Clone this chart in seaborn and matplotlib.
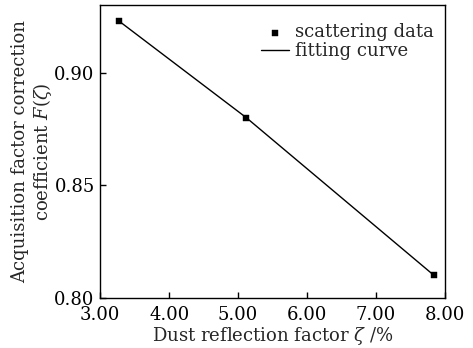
import matplotlib
matplotlib.use("Agg")
import matplotlib.pyplot as plt
import pandas as pd
import seaborn as sns

reflection = [3.27, 5.12, 7.84]
coefficient = [0.923, 0.880, 0.810]
x_ticks = [3.0, 4.0, 5.0, 6.0, 7.0, 8.0]
y_ticks = [0.80, 0.85, 0.90]

df = pd.DataFrame({"zeta": reflection, "F": coefficient})

sns.set_style("ticks")
plt.rcParams["font.family"] = ["DejaVu Serif"]
plt.rcParams["mathtext.fontset"] = "dejavuserif"

fig, ax = plt.subplots(figsize=(4.73, 3.48), dpi=100)
sns.lineplot(data=df, x="zeta", y="F", ax=ax, color="black", linewidth=1.0,
             label="fitting curve")
sns.scatterplot(data=df, x="zeta", y="F", ax=ax, color="black", marker="s",
                s=14, edgecolor="black", label="scattering data", zorder=3)

ax.set_xlim(3.0, 8.0)
ax.set_ylim(0.80, 0.93)
ax.set_xticks(x_ticks)
ax.set_xticklabels([f"{v:.2f}" for v in x_ticks])
ax.set_yticks(y_ticks)
ax.set_yticklabels([f"{v:.2f}" for v in y_ticks])
ax.tick_params(direction="in", length=4, width=1, labelsize=13, colors="black")
ax.tick_params(axis="x", pad=6)
ax.tick_params(axis="y", pad=4)
for spine in ax.spines.values():
    spine.set_visible(True)
    spine.set_linewidth(1.0)
    spine.set_color("black")

ax.set_xlabel(r"Dust reflection factor $\zeta$ /%", fontsize=13)
ax.set_ylabel("Acquisition factor correction\ncoefficient $F(\\zeta)$", fontsize=13,
              linespacing=1.1)
ax.xaxis.set_label_coords(0.5, -0.095)
ax.yaxis.set_label_coords(-0.135, 0.5)

handles, labels = ax.get_legend_handles_labels()
order = [labels.index("scattering data"), labels.index("fitting curve")]
ax.legend([handles[i] for i in order], [labels[i] for i in order],
          loc="upper right", bbox_to_anchor=(1.0, 0.975), frameon=False,
          fontsize=13, handlelength=1.6, handletextpad=0.3, labelspacing=0.05,
          borderaxespad=0.2)

fig.subplots_adjust(left=0.212, right=0.94, top=0.985, bottom=0.145)
fig.savefig("out.png", dpi=100)
